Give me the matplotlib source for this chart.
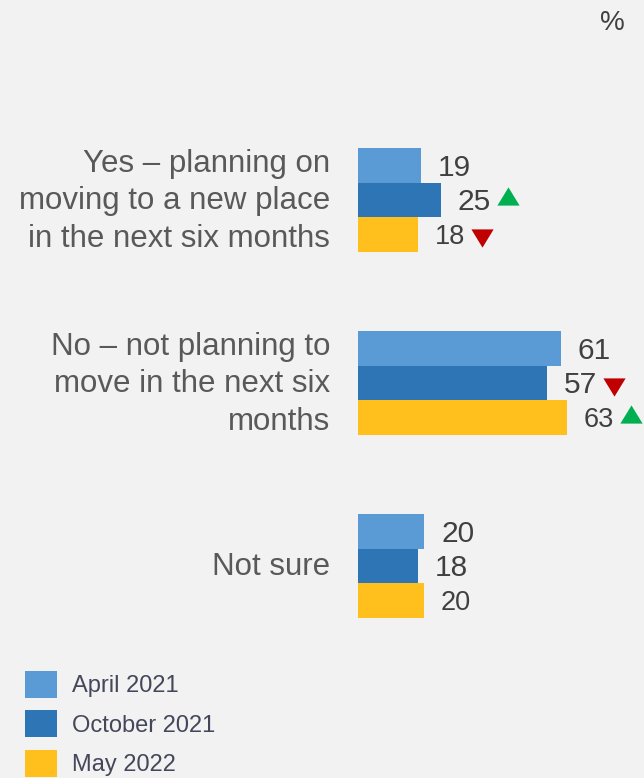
import numpy as np
import matplotlib
matplotlib.use("Agg")
import matplotlib.pyplot as plt
from matplotlib.patches import Patch

# ── Data ──────────────────────────────────────────────────────────────────────
categories = [
    "Yes – planning on\nmoving to a new place\nin the next six months",
    "No – not planning to\nmove in the next six\nmonths",
    "Not sure",
]
series_names = ["April 2021", "October 2021", "May 2022"]
april   = [19, 61, 20]
october = [25, 57, 18]
may     = [18, 63, 20]
# significance markers vs. previous wave
october_change = ["up", "down", None]
may_change     = ["down", "up", None]

# ── Colours ───────────────────────────────────────────────────────────────────
C_APR   = "#5B9BD5"
C_OCT   = "#2E75B6"
C_MAY   = "#FFC01E"
C_BG    = "#F2F2F2"
C_NUM   = "#404040"
C_CAT   = "#595959"
C_LEG   = "#44475A"
C_UP    = "#00B050"
C_DOWN  = "#C00000"

W, H = 644, 778
PX_PER_UNIT = 3.32
GROUP_PX = 183.0
BAR_PX = 34.5

plt.rcParams["font.family"] = ["Liberation Sans", "DejaVu Sans"]

fig = plt.figure(figsize=(W / 100, H / 100), dpi=100, facecolor=C_BG)
ax = fig.add_axes([358 / W, 0, 1 - 358 / W, 1])
ax.set_facecolor(C_BG)

ax.set_xlim(0, (W - 358) / PX_PER_UNIT)
# y pixel 200 -> 0, one group = 183 px
ax.set_ylim((H - 200) / GROUP_PX, -200 / GROUP_PX)

y = np.arange(len(categories))
bh = BAR_PX / GROUP_PX
series = [april, october, may]
colors = [C_APR, C_OCT, C_MAY]
changes = [[None] * 3, october_change, may_change]
sizes = [21.5, 21.5, 19.5]

texts = []
for k, (vals, col) in enumerate(zip(series, colors)):
    yy = y + (k - 1) * bh
    ax.barh(yy, vals, height=bh, color=col, edgecolor="none",
            label=series_names[k])
    for yi, v, ch in zip(yy, vals, changes[k]):
        t = ax.annotate(f"{v}", xy=(v, yi), xytext=(12, -1.5),
                        textcoords="offset points", ha="left", va="center",
                        fontsize=sizes[k], color=C_NUM)
        texts.append((t, yi, ch))

# category labels, right-aligned left of the bars
for yi, cat in zip(y, categories):
    ax.annotate(cat, xy=(0, yi), xytext=(-20, -0.8), textcoords="offset points",
                ha="right", va="center", multialignment="right",
                fontsize=22.5, color=C_CAT, linespacing=1.33,
                annotation_clip=False)
ax.set_yticks([])
ax.set_xticks([])
for sp in ax.spines.values():
    sp.set_visible(False)

# significance triangles placed right after the number text
fig.canvas.draw()
renderer = fig.canvas.get_renderer()
inv = ax.transData.inverted()
tri_up = [(-1, -0.82), (1, -0.82), (0, 0.82)]
tri_dn = [(-1, 0.82), (1, 0.82), (0, -0.82)]
for t, yi, ch in texts:
    if ch is None:
        continue
    bb = t.get_window_extent(renderer)
    xd = bb.x1 + 6 + 11
    xm = inv.transform((xd, 0))[0]
    if ch == "up":
        ax.plot(xm, yi - 0.02, marker=tri_up, markersize=16,
                color=C_UP, markeredgewidth=0, clip_on=False)
    else:
        ax.plot(xm, yi + 0.02, marker=tri_dn, markersize=16,
                color=C_DOWN, markeredgewidth=0, clip_on=False)

fig.text(625 / W, 1 - 23 / H, "%", ha="right", va="center",
         fontsize=20, color=C_NUM)

handles = [Patch(facecolor=c, edgecolor="none") for c in colors]
fig.legend(handles, series_names, loc="upper left",
           bbox_to_anchor=(25 / W, 1 - 671 / H), frameon=False,
           fontsize=17, labelcolor=C_LEG, handlelength=1.36,
           handleheight=1.38, handletextpad=0.62, labelspacing=0.53,
           borderpad=0, borderaxespad=0)

fig.savefig("out.png", dpi=100, facecolor=C_BG)
